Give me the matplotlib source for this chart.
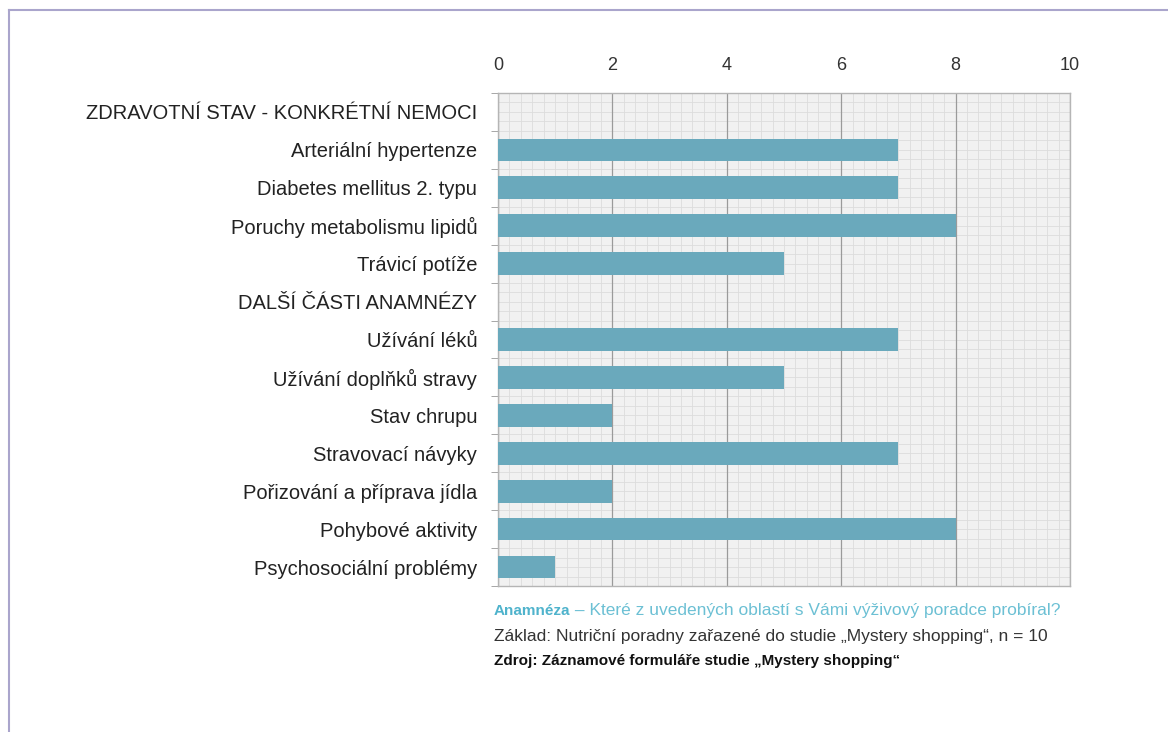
import matplotlib.pyplot as plt
from matplotlib.ticker import MultipleLocator
import numpy as np

plt.rcParams['font.family'] = ['Liberation Sans', 'DejaVu Sans']

categories = [
    "ZDRAVOTNÍ STAV - KONKRÉTNÍ NEMOCI",
    "Arteriální hypertenze",
    "Diabetes mellitus 2. typu",
    "Poruchy metabolismu lipidů",
    "Trávicí potíže",
    "DALŠÍ ČÁSTI ANAMNÉZY",
    "Užívání léků",
    "Užívání doplňků stravy",
    "Stav chrupu",
    "Stravovací návyky",
    "Pořizování a příprava jídla",
    "Pohybové aktivity",
    "Psychosociální problémy",
]
values = [0, 7, 7, 8, 5, 0, 7, 5, 2, 7, 2, 8, 1]
x_ticks = [0, 2, 4, 6, 8, 10]

fig = plt.figure(figsize=(11.68, 7.32), dpi=100)
ax = fig.add_axes([498 / 1168, 1 - 586 / 732, 572 / 1168, 493 / 732])

y = np.arange(len(categories))
ax.barh(y, values, height=0.6, color='#6aa9bc', zorder=3)

ax.set_xlim(0, 10)
ax.set_ylim(len(categories) - 0.5, -0.5)
ax.set_facecolor('#f1f1f1')

ax.xaxis.tick_top()
ax.set_xticks(x_ticks)
ax.set_xticklabels([str(t) for t in x_ticks], fontsize=13, color='#333333')
ax.xaxis.set_minor_locator(MultipleLocator(0.2))
ax.tick_params(axis='x', which='both', length=0, pad=14)

ax.set_yticks(y)
ax.set_yticklabels(categories, fontsize=14.5, color='#222222')
ax.set_yticks(np.arange(len(categories) + 1) - 0.5, minor=True)
ax.tick_params(axis='y', which='major', length=0, pad=15)
ax.tick_params(axis='y', which='minor', length=5, color='#999999')

ax.grid(axis='x', which='major', color='#9a9a9a', linewidth=0.9, zorder=1)
ax.grid(axis='x', which='minor', color='#dcdcdc', linewidth=0.6, zorder=0)
for yy in np.arange(-0.5, len(categories) - 0.5, 0.25):
    ax.axhline(yy, color='#dcdcdc', linewidth=0.6, zorder=0)

for side in ['left', 'right', 'top', 'bottom']:
    ax.spines[side].set_color('#b5b5b5')
    ax.spines[side].set_linewidth(1.0)

# caption below the chart
cap_size = 12.5
bold_size = 11
head = fig.text(494 / 1168, 1 - 611 / 732, "Anamnéza", fontsize=bold_size,
                fontweight='bold', color='#4fb3cc', va='center')
fig.canvas.draw()
ax.annotate(" – Které z uvedených oblastí s Vámi výživový poradce probíral?",
            xy=(1, 0.5), xycoords=head, va='center', ha='left',
            fontsize=cap_size, color='#6cc0d4', annotation_clip=False)
fig.text(494 / 1168, 1 - 636 / 732,
         "Základ: Nutriční poradny zařazené do studie „Mystery shopping“, n = 10",
         fontsize=cap_size, color='#333333', va='center')
fig.text(494 / 1168, 1 - 661 / 732,
         "Zdroj: Záznamové formuláře studie „Mystery shopping“",
         fontsize=bold_size, fontweight='bold', color='#111111', va='center')

# outer frame lines
fig.add_artist(plt.Line2D([9 / 1168, 1], [1 - 10 / 732, 1 - 10 / 732],
                          transform=fig.transFigure, color='#aaa5cc', linewidth=1.5))
fig.add_artist(plt.Line2D([9 / 1168, 9 / 1168], [0, 1 - 10 / 732],
                          transform=fig.transFigure, color='#aaa5cc', linewidth=1.5))

fig.savefig('out.png', dpi=100)
